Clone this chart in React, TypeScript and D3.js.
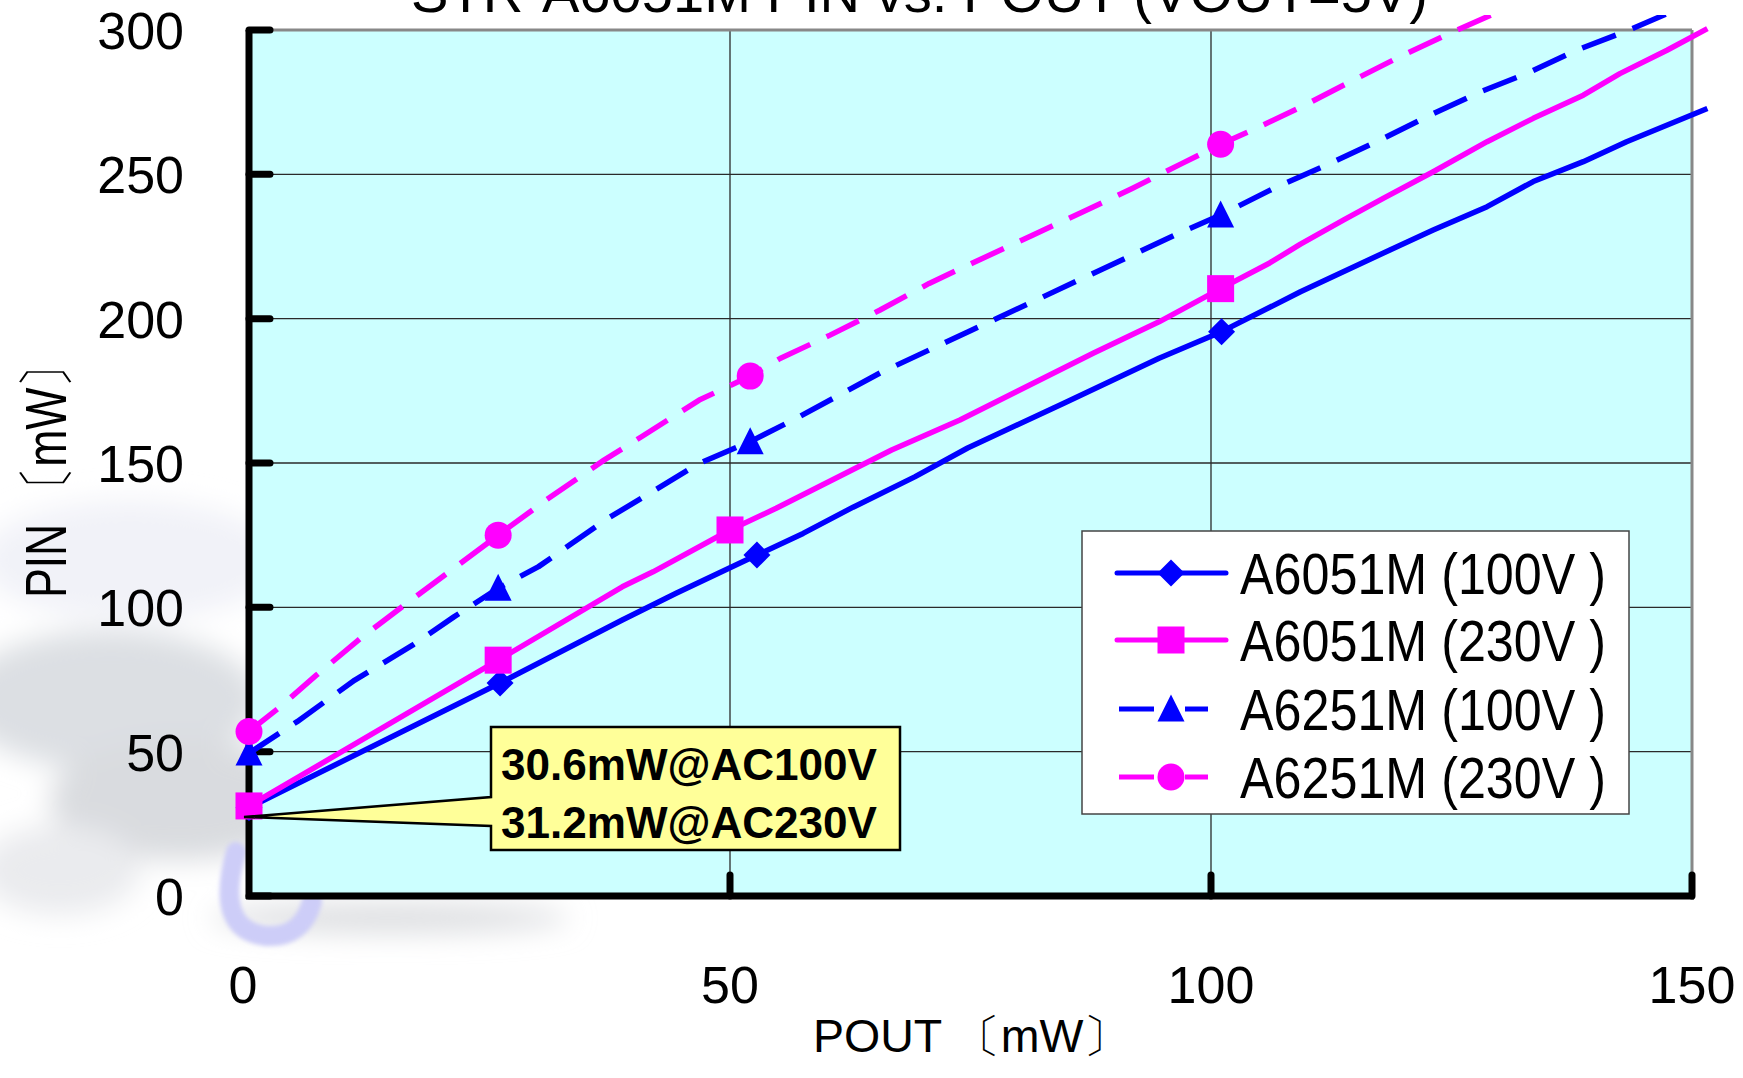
import React from "react";
import * as d3 from "d3";

const W = 1743;
const H = 1078;

const X_TICKS = [0, 50, 100, 150];
const Y_TICKS = [0, 50, 100, 150, 200, 250, 300];
const X_GRID = [50, 100];
const Y_GRID = [50, 100, 150, 200, 250];

const TITLE = "STR-A6051M PIN vs. POUT (VOUT=5V)";
const X_TITLE = "POUT 〔mW〕";
const Y_TITLE = "PIN 〔mW〕";
const NOTE_LINES = ["30.6mW@AC100V", "31.2mW@AC230V"];

const SERIES_NAMES = ["A6051M (100V )", "A6051M (230V )", "A6251M (100V )", "A6251M (230V )"];
const SERIES_COLORS = ["#0000FF", "#FF00FF", "#0000FF", "#FF00FF"];
const SERIES_DASHED = [false, false, true, true];
const SERIES_MARKERS = ["diamond", "square", "triangle", "circle"];

// line traces [POUT, PIN]
const A6051M_100V_LINE: [number, number][] = [
  [0, 30.6], [26.1, 73.8], [38.8, 95.6], [44.4, 104.9], [52.8, 118.1], [57.6, 125.6],
  [62.8, 134.7], [69.2, 145.2], [74.7, 155.2], [84.7, 170.7], [94.6, 186.3], [101.1, 195.5],
  [109.3, 209.3], [118.6, 223.8], [123.1, 230.7], [128.7, 238.8], [133.5, 247.5],
  [138.7, 254.4], [143.2, 261.3], [151.6, 272.8],
];
const A6051M_230V_LINE: [number, number][] = [
  [0, 31.2], [25.9, 81.7], [38.8, 107.1], [42.0, 112.3], [50.0, 126.8], [54.8, 134.3],
  [66.8, 154.5], [73.9, 164.9], [87.8, 188.1], [94.6, 198.9], [101.0, 210.4], [106.1, 219.3],
  [109.3, 225.8], [113.8, 234.2], [117.9, 241.7], [123.1, 250.9], [128.7, 261.3],
  [133.5, 269.4], [138.7, 277.4], [142.5, 284.9], [147.4, 293.0], [151.6, 300.5],
];
const A6251M_100V_LINE: [number, number][] = [
  [0, 49.5], [5, 60.4], [11, 74.8], [17, 86.9], [21.3, 96.7], [25.9, 106.6], [30.1, 114.1],
  [37.3, 130.8], [42.8, 141.8], [46.8, 149.9], [52.1, 157.4], [57.2, 166.0], [65.6, 181.2],
  [75.1, 196.0], [81.1, 205.3], [91.8, 222.0], [97.0, 230.1], [101.0, 235.9], [106.5, 245.1],
  [112.0, 253.2], [117.6, 261.9], [122.4, 269.9], [128.0, 278.6], [132.8, 284.9],
  [138.0, 293.0], [143.6, 300.2], [148.0, 306.5],
];
const A6251M_230V_LINE: [number, number][] = [
  [0, 57.0], [3.05, 65], [7, 76.5], [11.8, 89.8], [16.6, 101.9], [20.6, 111.8], [25.9, 125.0],
  [30.9, 137.2], [36.9, 151.0], [40.8, 159.1], [46.8, 171.8], [52.1, 180.1], [55.2, 186.2],
  [60.4, 194.3], [65.6, 203.0], [70.7, 212.2], [75.1, 219.1], [81.5, 229.0], [86.7, 237.0],
  [91.8, 245.1], [97.0, 253.8], [101.0, 260.4], [104.2, 265.2], [109.3, 273.2],
  [114.5, 282.1], [119.6, 290.7], [124.8, 298.8], [130.0, 306.5],
];

// markers [POUT, PIN]
const A6051M_100V_PTS: [number, number][] = [[0, 30.6], [26.1, 73.8], [52.8, 118.1], [101.1, 195.5]];
const A6051M_230V_PTS: [number, number][] = [[0, 31.2], [25.9, 81.7], [50.0, 126.8], [101.0, 210.4]];
const A6251M_100V_PTS: [number, number][] = [[0, 49.5], [25.9, 106.6], [52.1, 157.4], [101.0, 235.9]];
const A6251M_230V_PTS: [number, number][] = [[0, 57.0], [25.9, 125.0], [52.1, 180.1], [101.0, 260.4]];

const LINES = [A6051M_100V_LINE, A6051M_230V_LINE, A6251M_100V_LINE, A6251M_230V_LINE];
const POINTS = [A6051M_100V_PTS, A6051M_230V_PTS, A6251M_100V_PTS, A6251M_230V_PTS];

const PL = 249, PR = 1692, PT = 30, PB = 896;
const x = d3.scaleLinear().domain([0, 150]).range([PL, PR]);
const y = d3.scaleLinear().domain([0, 300]).range([PB, PT]);

const FONT = "'Liberation Sans Narrow', 'Liberation Sans', Arial, sans-serif";
const FONT_REG = "'Liberation Sans', Arial, sans-serif";

function Marker({ kind, cx, cy, color }: { kind: string; cx: number; cy: number; color: string }) {
  const s = 13.5;
  if (kind === "diamond")
    return <path d={`M${cx},${cy - s} L${cx + s},${cy} L${cx},${cy + s} L${cx - s},${cy} Z`} fill={color} />;
  if (kind === "square") return <rect x={cx - s} y={cy - s} width={2 * s} height={2 * s} fill={color} />;
  if (kind === "triangle")
    return <path d={`M${cx},${cy - s - 1} L${cx + s},${cy + s - 1} L${cx - s},${cy + s - 1} Z`} fill={color} />;
  return <circle cx={cx} cy={cy} r={s} fill={color} />;
}

export default function App() {
  const line = d3
    .line<[number, number]>()
    .x((d) => x(d[0]))
    .y((d) => y(d[1]));

  const legendX = 1082, legendY = 531, legendW = 547, legendH = 283;
  const legendRows = [573, 640, 709, 777];

  return (
    <svg
      width={W}
      height={H}
      viewBox={`0 0 ${W} ${H}`}
      style={{ position: "absolute", left: 0, top: 0, background: "#fff" }}
    >
      <defs>
        <filter id="blurBig" x="-50%" y="-50%" width="200%" height="200%">
          <feGaussianBlur stdDeviation="14" />
        </filter>
        <filter id="blurSmall" x="-50%" y="-50%" width="200%" height="200%">
          <feGaussianBlur stdDeviation="2" />
        </filter>
        <clipPath id="lineClip">
          <rect x={0} y={15} width={W} height={H - 15} />
        </clipPath>
      </defs>

      {/* watermark */}
      <g filter="url(#blurBig)">
        <ellipse cx={130} cy={560} rx={150} ry={60} fill="#f1f2f8" />
        <ellipse cx={110} cy={700} rx={150} ry={70} fill="#dcdfe3" />
        <ellipse cx={180} cy={800} rx={130} ry={60} fill="#d9dbdf" />
        <ellipse cx={60} cy={870} rx={80} ry={45} fill="#eaebee" />
        <ellipse cx={390} cy={918} rx={180} ry={14} fill="#dadcdf" />
      </g>
      <path
        d="M236,852 Q214,930 266,936 Q302,938 312,902"
        fill="none"
        stroke="#cdcdf8"
        strokeWidth={20}
        strokeLinecap="round"
        filter="url(#blurSmall)"
      />

      {/* title (cut off at top) */}
      <text
        x={411}
        y={12}
        fontFamily={FONT}
        fontSize={56}
        textLength={1017}
        lengthAdjust="spacingAndGlyphs"
        fill="#000"
      >
        {TITLE}
      </text>

      {/* plot background */}
      <rect x={PL} y={PT} width={PR - PL} height={PB - PT} fill="#CCFFFF" />

      {/* grid */}
      {Y_GRID.map((v) => (
        <line key={"gy" + v} x1={PL} x2={PR} y1={y(v)} y2={y(v)} stroke="#2a2a2a" strokeWidth={1.3} />
      ))}
      {X_GRID.map((v) => (
        <line key={"gx" + v} x1={x(v)} x2={x(v)} y1={PT} y2={PB} stroke="#2a2a2a" strokeWidth={1.3} />
      ))}
      {/* top & right border */}
      <line x1={PL} x2={PR} y1={PT} y2={PT} stroke="#888" strokeWidth={3} />
      <line x1={PR} x2={PR} y1={PT} y2={PB} stroke="#888" strokeWidth={3} />

      {/* axes */}
      <line x1={PL} x2={PL} y1={PT} y2={PB + 3} stroke="#000" strokeWidth={7} />
      <line x1={PL - 3} x2={PR + 2} y1={PB} y2={PB} stroke="#000" strokeWidth={7} />
      {Y_TICKS.map((v) => (
        <line key={"ty" + v} x1={PL} x2={PL + 21} y1={y(v)} y2={y(v)} stroke="#000" strokeWidth={7} strokeLinecap="round" />
      ))}
      {X_TICKS.filter((v) => v > 0).map((v) => (
        <line key={"tx" + v} x1={x(v)} x2={x(v)} y1={PB} y2={PB - 21} stroke="#000" strokeWidth={7} strokeLinecap="round" />
      ))}

      {/* tick labels */}
      {Y_TICKS.map((v) => (
        <text key={"ly" + v} x={184} y={y(v) + 19} textAnchor="end" fontFamily={FONT_REG} fontSize={52} fill="#000">
          {v}
        </text>
      ))}
      {X_TICKS.map((v) => (
        <text key={"lx" + v} x={x(v) - (v === 0 ? 6 : 0)} y={1003} textAnchor="middle" fontFamily={FONT_REG} fontSize={52} fill="#000">
          {v}
        </text>
      ))}

      {/* axis titles */}
      <text
        x={813}
        y={1052}
        fontFamily={FONT}
        fontSize={46}
        textLength={317}
        lengthAdjust="spacingAndGlyphs"
        fill="#000"
      >
        {X_TITLE}
      </text>
      <text
        transform="translate(66,598) rotate(-90)"
        x={0}
        y={0}
        fontFamily={FONT}
        fontSize={58}
        textLength={255}
        lengthAdjust="spacingAndGlyphs"
        fill="#000"
      >
        {Y_TITLE}
      </text>

      {/* series lines */}
      <g clipPath="url(#lineClip)">
        {LINES.map((data, i) => (
          <path
            key={"ln" + i}
            d={line(data) || ""}
            fill="none"
            stroke={SERIES_COLORS[i]}
            strokeWidth={5.5}
            strokeDasharray={SERIES_DASHED[i] ? "36,18" : undefined}
            strokeLinejoin="round"
          />
        ))}
      </g>

      {/* markers */}
      {POINTS.map((pts, i) =>
        pts.map((p, j) => (
          <Marker key={`m${i}-${j}`} kind={SERIES_MARKERS[i]} cx={x(p[0])} cy={y(p[1])} color={SERIES_COLORS[i]} />
        ))
      )}

      {/* legend */}
      <rect x={legendX} y={legendY} width={legendW} height={legendH} fill="#fff" stroke="#444" strokeWidth={1.5} />
      {SERIES_NAMES.map((name, i) => {
        const ry = legendRows[i];
        const c = SERIES_COLORS[i];
        return (
          <g key={"lg" + i}>
            {SERIES_DASHED[i] ? (
              <>
                <line x1={1119} x2={1154} y1={ry} y2={ry} stroke={c} strokeWidth={5} />
                <line x1={1185} x2={1208} y1={ry} y2={ry} stroke={c} strokeWidth={5} />
              </>
            ) : (
              <line x1={1117} x2={1226} y1={ry} y2={ry} stroke={c} strokeWidth={5} strokeLinecap="round" />
            )}
            <Marker kind={SERIES_MARKERS[i]} cx={1171} cy={ry} color={c} />
            <text
              x={1240}
              y={ry + 21}
              fontFamily={FONT}
              fontSize={58}
              textLength={366}
              lengthAdjust="spacingAndGlyphs"
              fill="#000"
            >
              {name}
            </text>
          </g>
        );
      })}

      {/* callout */}
      <path
        d={`M491,727 H900 V850 H491 V826 L244,817 L491,797 Z`}
        fill="#FFFF99"
        stroke="#000"
        strokeWidth={2.5}
        strokeLinejoin="miter"
      />
      {NOTE_LINES.map((t, i) => (
        <text
          key={"nt" + i}
          x={501}
          y={780 + i * 58}
          fontFamily={FONT}
          fontWeight="bold"
          fontSize={45}
          textLength={376}
          lengthAdjust="spacingAndGlyphs"
          fill="#000"
        >
          {t}
        </text>
      ))}
    </svg>
  );
}
